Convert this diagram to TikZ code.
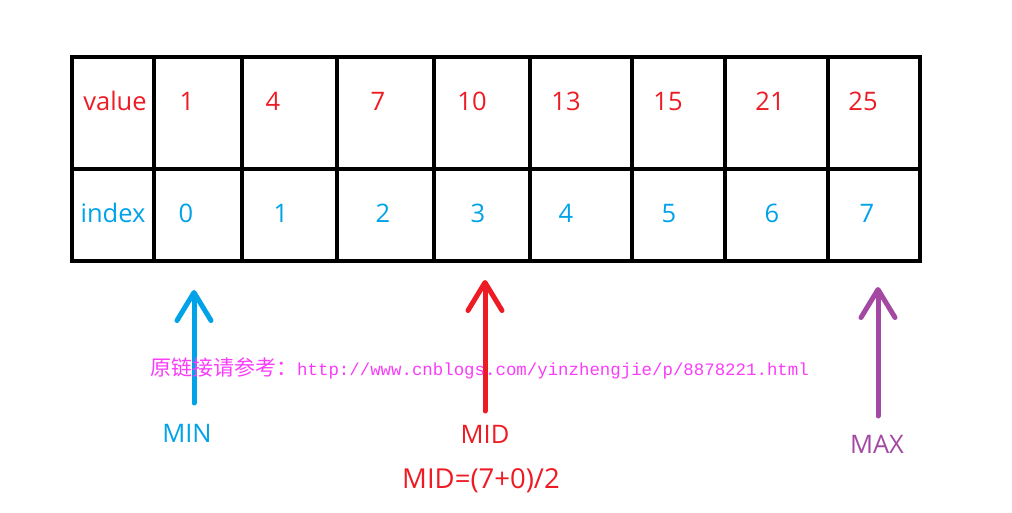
\documentclass[tikz,border=0pt]{standalone}
\usepackage{fontspec}
\setmainfont{Open Sans}
\newfontfamily\cjkfont{Noto Sans CJK SC}
\newfontfamily\urlfont{Liberation Mono}
\usetikzlibrary{arrows.meta, positioning}
\definecolor{paintred}{RGB}{237, 28, 36}
\definecolor{paintblue}{RGB}{0, 162, 232}
\definecolor{paintpurple}{RGB}{163, 73, 164}
\definecolor{markmagenta}{RGB}{250, 60, 250}

\begin{document}
\begin{tikzpicture}[
    x=1pt, y=-1pt,
    grid/.style={draw=black, line width=4pt},
    celltxt/.style={anchor=base, inner sep=0pt,
                font=\fontsize{25.5}{30}\selectfont},
    valtxt/.style={celltxt, text=paintred},
    idxtxt/.style={celltxt, text=paintblue},
    ptr/.style={line width=5pt, line cap=round,
                -{Straight Barb[length=28pt, width=34pt, round]}},
    ptrlabel/.style={anchor=base, inner sep=0pt,
                font=\fontsize{25.5}{30}\selectfont},
  ]
    \useasboundingbox (0,0) rectangle (1012,513);

    % The array table
    \draw[grid] (72,57) rectangle (920,261);
    \draw[grid] (72,169) -- (920,169);
    \foreach \x in {154,242,337,434,530,632,725,828}
      \draw[grid] (\x,57) -- (\x,261);

    % Row headers
    \node[valtxt] (valhead) at (115,111) {value};
    \node[idxtxt] (idxhead) at (113,223) {index};

    % Values
    \node[valtxt] (v0) at (187,111) {1};
    \node[valtxt] (v1) at (273,111) {4};
    \node[valtxt] (v2) at (378,111) {7};
    \node[valtxt] (v3) at (472,111) {10};
    \node[valtxt] (v4) at (566,111) {13};
    \node[valtxt] (v5) at (668,111) {15};
    \node[valtxt] (v6) at (770,111) {21};
    \node[valtxt] (v7) at (863,111) {25};

    % Indices
    \node[idxtxt] (i0) at (186,223) {0};
    \node[idxtxt] (i1) at (281,223) {1};
    \node[idxtxt] (i2) at (383,223) {2};
    \node[idxtxt] (i3) at (478,223) {3};
    \node[idxtxt] (i4) at (566,223) {4};
    \node[idxtxt] (i5) at (669,223) {5};
    \node[idxtxt] (i6) at (772,223) {6};
    \node[idxtxt] (i7) at (867,223) {7};

    % Pointers
    \node[ptrlabel, text=paintblue] (minlbl) at (187,442) {MIN};
    \node[ptrlabel, text=paintred] (midlbl) at (485,443) {MID};
    \node[ptrlabel, text=paintpurple] (maxlbl) at (877,453) {MAX};
    \node[ptrlabel, text=paintred, font=\fontsize{27.5}{30}\selectfont]
      (midcalc) at (481,488) {MID=(7+0)/2};

    \coordinate (mintail) at (194,403);
    \coordinate (mintip)  at (194,290);
    \coordinate (midtail) at (485,411);
    \coordinate (midtip)  at (485,280);
    \coordinate (maxtail) at (878,416);
    \coordinate (maxtip)  at (878,287);

    \draw[ptr, paintblue] (mintail) -- (mintip);
    \draw[ptr, paintred] (midtail) -- (midtip);
    \draw[ptr, paintpurple] (maxtail) -- (maxtip);

    % Source note
    \node[anchor=base west, inner sep=0pt, text=markmagenta] (srcnote) at (150,375)
      {\cjkfont\fontsize{21}{24}\selectfont 原链接请参考：\urlfont\fontsize{17.4}{20}\selectfont http://www.cnblogs.com/yinzhengjie/p/8878221.html};
\end{tikzpicture}
\end{document}
